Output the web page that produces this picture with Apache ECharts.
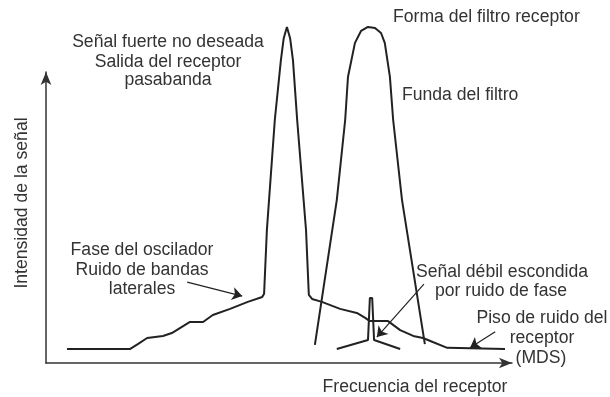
<!DOCTYPE html>
<html>
<head>
<meta charset="utf-8">
<title>Ruido de fase del receptor</title>
<script src="https://cdn.jsdelivr.net/npm/echarts@6/dist/echarts.min.js"></script>
<style>
	html, body {
		margin: 0;
		padding: 0;
		background: #fff;
	}
	#chart {
		width: 610px;
		height: 397px;
	}
</style>
</head>
<body>
<div id="chart"></div>

<script type="text/javascript">
	// 接收机噪声 + 强信号（x: 频率, y: 强度）
	var ruidoFase = [
		[4.5, 4.8], [18.0, 4.8], [19.7, 6.5], [21.7, 8.6], [25.1, 9.3], [27.0, 10.3],
		[30.9, 14.1], [33.7, 14.1], [35.8, 16.5], [39.5, 18.6], [43.3, 21.0], [46.4, 22.7],
		[46.8, 23.8], [47.4, 45.7], [49.1, 83.5], [50.4, 104.0], [51.0, 111.5], [51.7, 115.5],
		[52.4, 111.5], [53.0, 104.0], [53.9, 83.5], [55.8, 45.7], [56.4, 23.4], [57.1, 22.0],
		[59.2, 21.0], [63.1, 18.6], [66.7, 17.2], [68.5, 15.5], [69.5, 14.4], [73.4, 14.4],
		[76.0, 11.3], [78.8, 9.3], [80.9, 8.6], [83.0, 7.2], [86.1, 5.2], [98.5, 4.8]
	];

	// 接收机滤波器形状
	var filtro = [
		[57.7, 6.2], [62.4, 56.0], [64.2, 83.5], [64.8, 98.3], [66.3, 110.0], [67.6, 114.1],
		[69.1, 115.5], [70.6, 115.1], [71.9, 113.4], [72.7, 110.0], [73.8, 98.3], [74.5, 83.5],
		[76.4, 56.0], [81.3, 6.5]
	];

	// 被相位噪声掩盖的弱信号
	var senalDebil = [
		[62.4, 4.8], [69.1, 7.9], [69.5, 22.3], [70.0, 22.3], [70.4, 7.9], [76.0, 4.8]
	];

	// 注释箭头 [起点, 终点]
	var flechas = [
		[[36.7, 97.6], [49.6, 102.1]],
		[[30.3, 27.8], [42.1, 23.0]],
		[[81.1, 27.1], [71.0, 8.9]],
		[[96.4, 10.7], [91.0, 5.2]]
	];

	// 文字标注 [文本, x, y, 对齐]
	var textos = [
		['Señal fuerte no deseada', 168, 42, 'center'],
		['Salida del receptor', 168, 62, 'center'],
		['pasabanda', 168, 80, 'center'],
		['Forma del filtro receptor', 393, 17, 'left'],
		['Funda del filtro', 402, 95, 'left'],
		['Fase del oscilador', 142, 250, 'center'],
		['Ruido de bandas', 142, 270, 'center'],
		['laterales', 142, 289, 'center'],
		['Señal débil escondida', 502, 272, 'center'],
		['por ruido de fase', 501, 291, 'center'],
		['Piso de ruido del', 542, 318, 'center'],
		['receptor', 542, 338, 'center'],
		['(MDS)', 541, 358, 'center'],
		['Frecuencia del receptor', 415, 387, 'center']
	];

	var colorLinea = '#222';
	var colorTexto = '#333';
	var fuente = '17.6px "Liberation Sans", Arial, sans-serif';

	var graficos = textos.map(function (t) {
		return {
			type: 'text',
			x: t[1],
			y: t[2],
			silent: true,
			style: {
				text: t[0],
				fill: colorTexto,
				font: fuente,
				textAlign: t[3],
				textVerticalAlign: 'middle'
			}
		};
	});
	// 纵轴名称（旋转）
	graficos.push({
		type: 'text',
		x: 22,
		y: 203,
		rotation: Math.PI / 2,
		silent: true,
		style: {
			text: 'Intensidad de la señal',
			fill: colorTexto,
			font: fuente,
			textAlign: 'center',
			textVerticalAlign: 'middle'
		}
	});

	function serieCurva(datos) {
		return {
			type: 'line',
			data: datos,
			symbol: 'none',
			clip: false,
			silent: true,
			lineStyle: { color: colorLinea, width: 2 }
		};
	}

	var ejeOculto = {
		type: 'value',
		min: 0,
		max: 100,
		axisTick: { show: false },
		axisLabel: { show: false },
		splitLine: { show: false },
		axisLine: {
			show: true,
			symbol: ['none', 'arrow'],
			symbolSize: [8, 13],
			lineStyle: { color: '#333', width: 1.5 }
		}
	};

	var option = {
		animation: false,
		backgroundColor: '#fff',
		grid: { left: 46, right: 98, top: 72, bottom: 34 },
		xAxis: ejeOculto,
		yAxis: ejeOculto,
		graphic: graficos,
		series: [
			serieCurva(ruidoFase),
			serieCurva(filtro),
			serieCurva(senalDebil),
			{
				type: 'line',
				data: [],
				clip: false,
				silent: true,
				markLine: {
					silent: true,
					symbol: ['none', 'arrow'],
					symbolSize: 10,
					label: { show: false },
					lineStyle: { color: colorLinea, width: 1.2, type: 'solid' },
					data: flechas.map(function (f) {
						return [{ coord: f[0] }, { coord: f[1] }];
					})
				}
			}
		]
	};

	var chart = echarts.init(document.getElementById('chart'));
	chart.setOption(option);
</script>
</body>
</html>
